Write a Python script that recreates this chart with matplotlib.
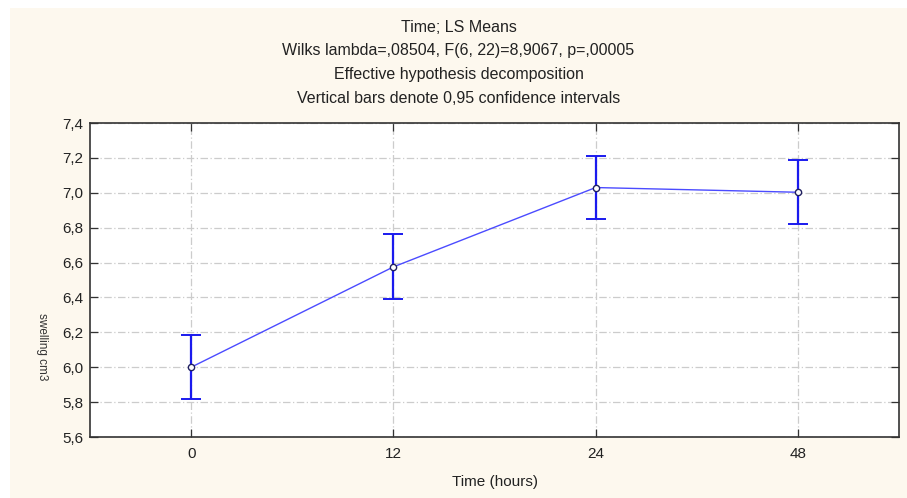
import matplotlib
matplotlib.use("Agg")
import matplotlib.pyplot as plt
from matplotlib.patches import Rectangle
import numpy as np

categories = ["0", "12", "24", "48"]
means = [6.0, 6.575, 7.03, 7.003]
lower = [5.818, 6.392, 6.848, 6.822]
upper = [6.185, 6.762, 7.212, 7.188]
yticks = [5.6, 5.8, 6.0, 6.2, 6.4, 6.6, 6.8, 7.0, 7.2, 7.4]
ytick_labels = ["5,6", "5,8", "6,0", "6,2", "6,4", "6,6", "6,8", "7,0", "7,2", "7,4"]
title_lines = ["Time; LS Means",
               "Wilks lambda=,08504, F(6, 22)=8,9067, p=,00005",
               "Effective hypothesis decomposition",
               "Vertical bars denote 0,95 confidence intervals"]

plt.rcParams['font.family'] = ['Liberation Sans', 'DejaVu Sans']

W, H = 907, 498
fig = plt.figure(figsize=(W / 100, H / 100), dpi=100)
fig.patch.set_facecolor("white")
cream = "#FDF8EE"
fig.patches.append(Rectangle((10 / W, 0), 1 - 10 / W, (H - 8) / H,
                             transform=fig.transFigure, facecolor=cream,
                             edgecolor="none", zorder=-10))

ax = fig.add_axes([90 / W, (H - 437) / H, (899 - 90) / W, (437 - 123) / H])
ax.set_facecolor("white")

x = np.arange(len(categories))
m = np.array(means)
yerr = np.vstack([m - np.array(lower), np.array(upper) - m])
ax.errorbar(x, m, yerr=yerr, fmt="none", ecolor="#1a1aee", elinewidth=1.6,
            capsize=7.5, capthick=1.4, zorder=3)
ax.plot(x, m, color="#4b4bff", linewidth=1.0, zorder=4)
ax.plot(x, m, linestyle="none", marker="o", markersize=4.5,
        markerfacecolor="white", markeredgecolor="#202060",
        markeredgewidth=1.0, zorder=5)

ax.set_xlim(-0.5, 3.5)
ax.set_ylim(5.6, 7.4)
ax.set_xticks(x)
ax.set_xticklabels(categories, fontsize=11)
ax.set_yticks(yticks)
ax.set_yticklabels(ytick_labels, fontsize=11)
ax.tick_params(direction="in", length=6, top=True, right=True,
               width=0.9, colors="#333333", labelcolor="#222222", pad=5)
ax.tick_params(axis="x", pad=7)
ax.grid(True, color="#cccccc", linestyle=(0, (6, 2, 1, 2)), linewidth=0.9)
ax.set_axisbelow(True)
for s in ax.spines.values():
    s.set_color("#333333")
    s.set_linewidth(1.2)

ax.set_xlabel("Time (hours)", fontsize=11, labelpad=10, color="#222222")
fig.text(42 / W, 1 - 347 / H, "swelling cm3", rotation=270, fontsize=8.5,
         ha="center", va="center", color="#333333")

for i, line in enumerate(title_lines):
    fig.text(0.5 * (1 + 10 / W), 1 - (27 + i * 23.7) / H, line,
             ha="center", va="center", fontsize=11.5, color="#222222")

fig.savefig("out.png", dpi=100, facecolor=fig.get_facecolor())
